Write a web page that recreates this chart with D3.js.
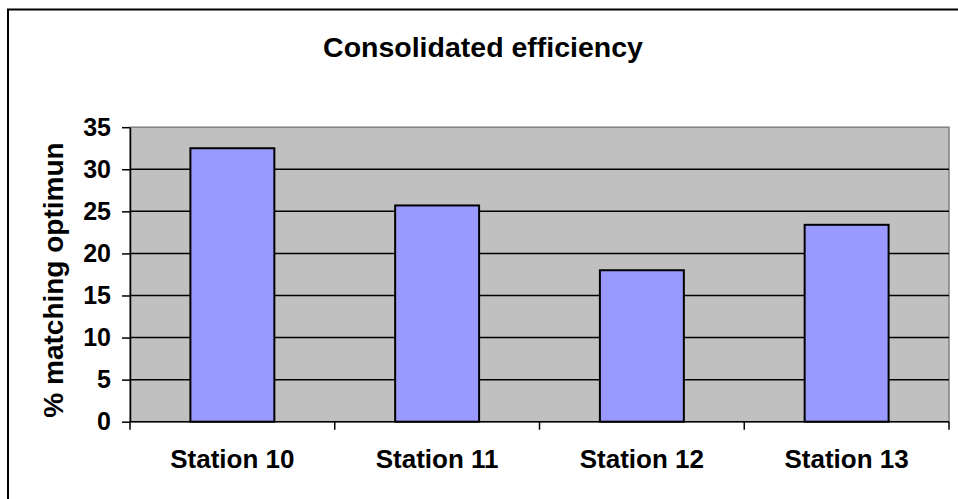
<!DOCTYPE html>
<html>
<head>
<meta charset="utf-8">
<script src="https://cdn.jsdelivr.net/npm/d3@7"></script>
<style>
  html, body { margin: 0; padding: 0; background: #fff; }
  svg { display: block; font-family: "Liberation Sans", Arial, sans-serif; font-weight: bold; }
</style>
</head>
<body>
<svg id="chart" width="958" height="499"></svg>
<script>
// Chart data
const stations = ["Station 10", "Station 11", "Station 12", "Station 13"];
const efficiency = [32.5, 25.7, 18.0, 23.4];
const yTicks = [0, 5, 10, 15, 20, 25, 30, 35];

const svg = d3.select("#chart");

// Plot area bounds
const plot = { left: 130, right: 949, top: 127.2, bottom: 421.7 };

// Outer frame (left and top edges)
svg.append("path")
  .attr("d", `M8,499 V9.5 H958`)
  .attr("fill", "none")
  .attr("stroke", "#000")
  .attr("stroke-width", 2);

const x = d3.scaleBand().domain(stations).range([plot.left, plot.right]).padding(0);
const y = d3.scaleLinear().domain([0, 35]).range([plot.bottom, plot.top]);

// Plot background
svg.append("rect")
  .attr("x", plot.left).attr("y", plot.top)
  .attr("width", plot.right - plot.left).attr("height", plot.bottom - plot.top)
  .attr("fill", "#C0C0C0")
  .attr("stroke", "#808080")
  .attr("stroke-width", 1.5);

// Horizontal gridlines
svg.append("g").selectAll("line")
  .data(yTicks.filter(d => d > 0 && d < 35))
  .join("line")
  .attr("x1", plot.left).attr("x2", plot.right)
  .attr("y1", d => y(d)).attr("y2", d => y(d))
  .attr("stroke", "#000").attr("stroke-width", 1.5);

// Bars
const barW = x.bandwidth() * 0.41;
svg.append("g").selectAll("rect")
  .data(stations)
  .join("rect")
  .attr("x", (d) => x(d) + (x.bandwidth() - barW) / 2)
  .attr("y", (d, i) => y(efficiency[i]))
  .attr("width", barW)
  .attr("height", (d, i) => y(0) - y(efficiency[i]))
  .attr("fill", "#9999FF")
  .attr("stroke", "#000")
  .attr("stroke-width", 2);

// Y axis
const yAxis = svg.append("g")
  .attr("transform", `translate(${plot.left},0)`)
  .call(d3.axisLeft(y).tickValues(yTicks).tickSize(8).tickPadding(11).tickSizeOuter(0));
yAxis.select(".domain").attr("stroke", "#000").attr("stroke-width", 1.5);
yAxis.selectAll(".tick line").attr("stroke", "#000").attr("stroke-width", 1.5);
yAxis.selectAll(".tick text")
  .attr("fill", "#000")
  .style("font-size", "25px")
  .style("font-weight", "bold")
  .style("font-family", "'Liberation Sans', Arial, sans-serif");

// X axis with ticks at category boundaries
const xAxisG = svg.append("g").attr("transform", `translate(0,${plot.bottom})`);
xAxisG.append("line")
  .attr("x1", plot.left).attr("x2", plot.right)
  .attr("stroke", "#000").attr("stroke-width", 1.5);
const bounds = stations.map(d => x(d)).concat([plot.right]);
xAxisG.selectAll("line.bound")
  .data(bounds)
  .join("line")
  .attr("class", "bound")
  .attr("x1", d => d).attr("x2", d => d)
  .attr("y1", 0).attr("y2", 8)
  .attr("stroke", "#000").attr("stroke-width", 1.5);
xAxisG.selectAll("text")
  .data(stations)
  .join("text")
  .attr("x", d => x(d) + x.bandwidth() / 2)
  .attr("y", 46.5)
  .attr("text-anchor", "middle")
  .style("font-size", "26px")
  .text(d => d);

// Title
svg.append("text")
  .attr("x", 483)
  .attr("y", 56.5)
  .attr("text-anchor", "middle")
  .style("font-size", "28.5px")
  .text("Consolidated efficiency");

// Y axis title
svg.append("text")
  .attr("transform", `translate(63,280) rotate(-90)`)
  .attr("text-anchor", "middle")
  .style("font-size", "28px")
  .text("% matching optimun");
</script>
</body>
</html>
